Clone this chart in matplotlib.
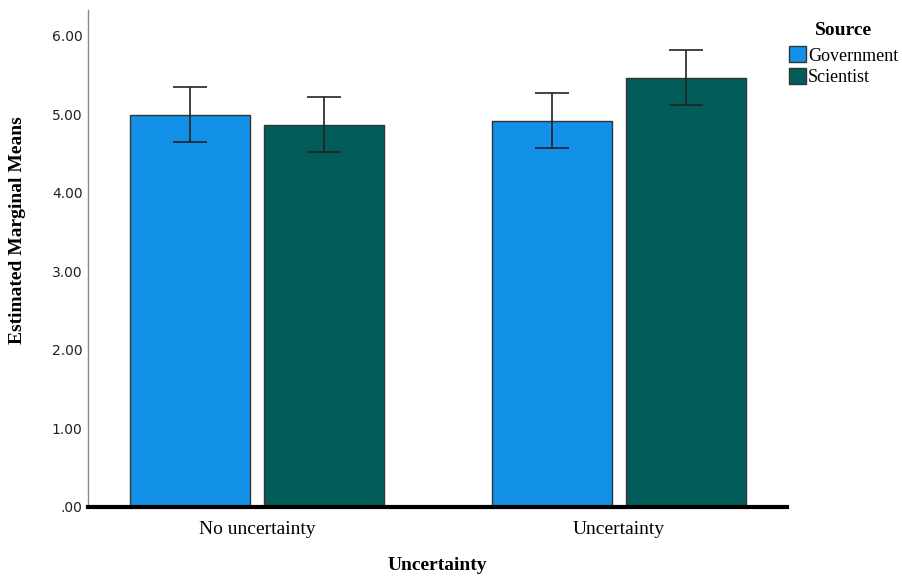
import matplotlib.pyplot as plt
import numpy as np
from matplotlib.patches import Patch

# values
cats = ["No uncertainty", "Uncertainty"]
sources = ["Government", "Scientist"]
means = {"Government": [4.99, 4.92], "Scientist": [4.87, 5.46]}
lower = {"Government": [4.65, 4.57], "Scientist": [4.52, 5.12]}
upper = {"Government": [5.35, 5.27], "Scientist": [5.22, 5.82]}
colors = {"Government": "#1390e8", "Scientist": "#025c5a"}
yticks = [0, 1, 2, 3, 4, 5, 6]
ylabels = [".00", "1.00", "2.00", "3.00", "4.00", "5.00", "6.00"]

SERIF = "Liberation Serif"

fig = plt.figure(figsize=(9.02, 5.79), dpi=100)
ax = fig.add_axes([0.0976, 0.1244, 0.775, 0.8583])

x = np.arange(len(cats))
w = 0.331
off = {"Government": -0.185, "Scientist": 0.185}
for s in sources:
    m = np.array(means[s])
    err = [m - np.array(lower[s]), np.array(upper[s]) - m]
    ax.bar(x + off[s], m, width=w, color=colors[s], edgecolor="#333333", lw=1, zorder=2)
    ax.errorbar(x + off[s], m, yerr=err, fmt="none", ecolor="#222222",
                elinewidth=1.2, capsize=12, capthick=1.2, zorder=3)

ax.set_xlim(-0.467, 1.464)
ax.set_ylim(0, 6.33)
ax.set_yticks(yticks)
ax.set_yticklabels(ylabels, fontsize=10, color="#222222", family="DejaVu Sans")
ax.set_xticks(x)
ax.set_xticklabels(cats, fontsize=14, family=SERIF)
ax.tick_params(axis="y", length=0, pad=4)
ax.tick_params(axis="x", length=0, pad=10)

for sp in ["top", "right"]:
    ax.spines[sp].set_visible(False)
ax.spines["left"].set_color("#888888")
ax.spines["left"].set_linewidth(1)
ax.spines["bottom"].set_color("black")
ax.spines["bottom"].set_linewidth(3)

fig.text(18 / 902, 1 - 230 / 579, "Estimated Marginal Means", rotation=90, fontsize=14,
         fontweight="bold", family=SERIF, ha="center", va="center")
fig.text(437 / 902, 1 - 566 / 579, "Uncertainty", fontsize=14, fontweight="bold",
         family=SERIF, ha="center", va="center")

handles = [Patch(facecolor=colors[s], edgecolor="#333333", label=s) for s in sources]
fig.text(0.935, 0.948, "Source", fontsize=14, fontweight="bold", family=SERIF, ha="center", va="center")
fig.legend(handles=handles, loc="upper left", bbox_to_anchor=(0.875, 0.92), frameon=False,
           prop={"family": SERIF, "size": 13}, handlelength=0.9, handleheight=1.0,
           handletextpad=0.15, labelspacing=0.2, borderaxespad=0, borderpad=0)

fig.savefig("out.png", dpi=100, facecolor="white")
